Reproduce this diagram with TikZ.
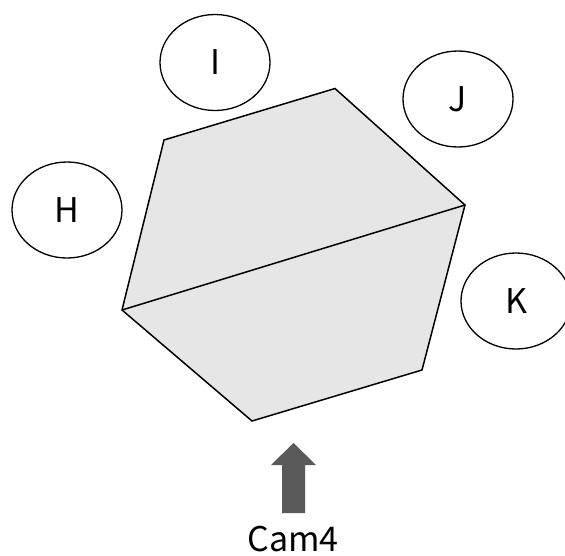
\documentclass[tikz,border=0pt]{standalone}
\usepackage{fontspec}
\setmainfont{Noto Sans CJK JP}
\usetikzlibrary{shapes.geometric}
\definecolor{hexfill}{HTML}{E6E6E6}
\definecolor{camgray}{HTML}{595959}
\tikzset{
  zone/.style={ellipse, draw=black, line width=1.3pt, minimum width=110pt, minimum height=96pt, inner sep=0pt, font=\fontsize{34}{40}\selectfont},
  hexline/.style={draw=black, line width=1.5pt, line join=miter},
  lbl/.style={font=\fontsize{34}{40}\selectfont, inner sep=0pt, text depth=0pt}
}
\begin{document}
\begin{tikzpicture}[x=1pt,y=-1pt]
\useasboundingbox (0,0) rectangle (565,555);
% hexagon vertices
\coordinate (tl) at (164,140);
\coordinate (t) at (335,88.5);
\coordinate (r) at (465,205);
\coordinate (br) at (422,370);
\coordinate (b) at (252,421);
\coordinate (l) at (122,310);
\path[hexline, fill=hexfill] (tl) -- (t) -- (r) -- (br) -- (b) -- (l) -- cycle;
\draw[hexline] (l) -- (r);
% zones
\node[zone] (I) at (215,62.5) {I};
\node[zone] (J) at (458,99) {J};
\node[zone] (H) at (67,210) {H};
\node[zone] (K) at (516,301) {K};
% camera arrow
\fill[camgray] (282,513) -- (282,465) -- (271,465) -- (293.5,443) -- (316,465) -- (305,465) -- (305,513) -- cycle;
\node[lbl, anchor=base] (cam) at (293,551.5) {Cam4};
\end{tikzpicture}
\end{document}
